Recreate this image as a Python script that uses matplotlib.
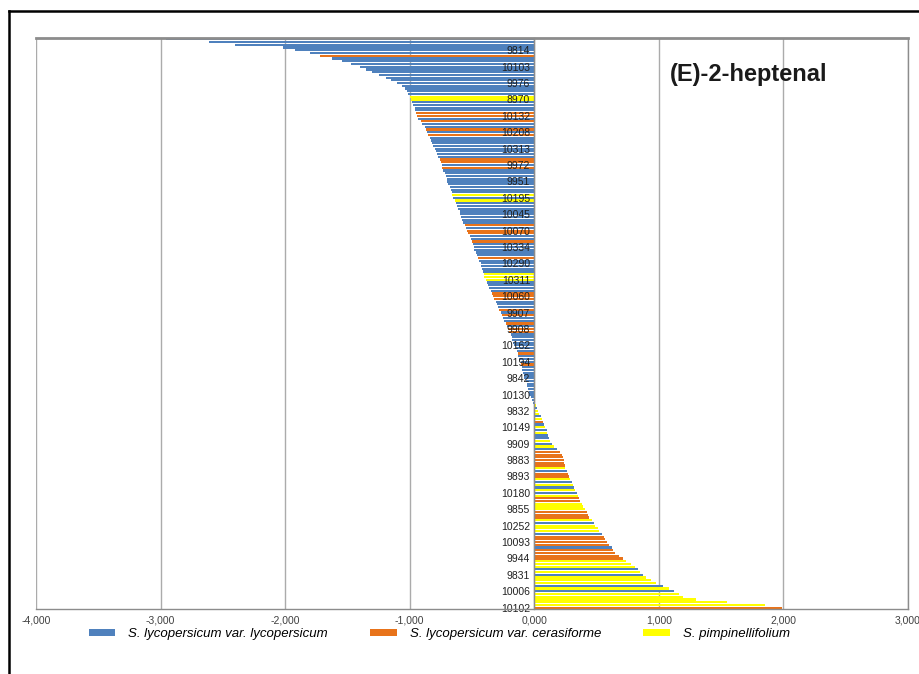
import numpy as np
import matplotlib
matplotlib.use("Agg")
import matplotlib.pyplot as plt
from matplotlib.lines import Line2D
from matplotlib.patches import Patch

# ---------------- data (top bar first) ----------------
values = [
    -2.96, -2.61, -2.40, -2.02, -1.92, -1.80, -1.72, -1.62, -1.54, -1.47,
    -1.40, -1.35, -1.30, -1.25, -1.19, -1.15, -1.10, -1.06, -1.04, -1.02,
    -1.01, -1.00, -0.99, -0.98, -0.97, -0.96, -0.96, -0.95, -0.94, -0.93,
    -0.91, -0.90, -0.88, -0.87, -0.86, -0.85, -0.84, -0.83, -0.82, -0.81,
    -0.80, -0.79, -0.78, -0.77, -0.76, -0.75, -0.74, -0.74, -0.73, -0.72,
    -0.71, -0.70, -0.70, -0.69, -0.68, -0.67, -0.66, -0.66, -0.65, -0.64,
    -0.63, -0.62, -0.61, -0.60, -0.60, -0.59, -0.58, -0.57, -0.56, -0.55,
    -0.54, -0.53, -0.52, -0.51, -0.50, -0.49, -0.48, -0.48, -0.47, -0.46,
    -0.45, -0.44, -0.43, -0.43, -0.42, -0.41, -0.40, -0.40, -0.39, -0.38,
    -0.37, -0.36, -0.35, -0.34, -0.33, -0.32, -0.31, -0.30, -0.29, -0.28,
    -0.27, -0.26, -0.25, -0.24, -0.23, -0.22, -0.21, -0.20, -0.19, -0.18,
    -0.18, -0.17, -0.16, -0.15, -0.14, -0.13, -0.13, -0.12, -0.11, -0.11,
    -0.10, -0.10, -0.09, -0.08, -0.08, -0.07, -0.06, -0.06, -0.05, -0.04,
    -0.04, -0.03, -0.02, -0.01, 0.01, 0.02, 0.03, 0.04, 0.05, 0.06,
    0.07, 0.08, 0.09, 0.10, 0.10, 0.11, 0.12, 0.13, 0.14, 0.16,
    0.18, 0.21, 0.22, 0.23, 0.24, 0.24, 0.25, 0.25, 0.26, 0.27,
    0.28, 0.29, 0.30, 0.31, 0.32, 0.33, 0.34, 0.35, 0.36, 0.37,
    0.38, 0.39, 0.41, 0.42, 0.43, 0.44, 0.46, 0.48, 0.49, 0.51,
    0.52, 0.54, 0.56, 0.57, 0.58, 0.60, 0.62, 0.63, 0.65, 0.68,
    0.71, 0.74, 0.78, 0.81, 0.83, 0.85, 0.87, 0.90, 0.94, 0.98,
    1.03, 1.08, 1.12, 1.16, 1.19, 1.30, 1.55, 1.85, 1.99,
]

# L = var. lycopersicum, C = var. cerasiforme, P = S. pimpinellifolium
groups = list(
    "LLLLLLCLLL" "LLLLLLLLLL" "LPPLLLLCCL" "CLLCLCLLLL" "LLLLCCLCLL"
    "LLLLLLLPLP" "LLLLLLLLCL" "CCLLCLLLLL" "CLLLLLPPPL" "LLLCCCLLLC"
    "LCLLCLCCLL" "LLLLLCLLLC" "LLLLLLLLLL" "LLLLPLPPLP" "CLPLPLLPLP"
    "LCCCCCCPLC" "CPLPLPLPCC" "PPPCCCPLPP" "PLCCCCLCCC" "CPPPLPLPPP"
    "LPLPPPPPC"
)

tick_labels = [
    "9814", "10103", "9976", "8970", "10132", "10208", "10313", "9972",
    "9951", "10195", "10045", "10070", "10334", "10290", "10311", "10060",
    "9907", "9908", "10162", "10194", "9842", "10130", "9832", "10149",
    "9909", "9883", "9893", "10180", "9855", "10252", "10093", "9944",
    "9831", "10006", "10102",
]

series_names = {
    "L": "S. lycopersicum var. lycopersicum",
    "C": "S. lycopersicum var. cerasiforme",
    "P": "S. pimpinellifolium",
}
series_colors = {"L": "#4F81BD", "C": "#E8731A", "P": "#FFFF00"}

title = "(E)-2-heptenal"

# ---------------- plot ----------------
narrow = ["Liberation Sans Narrow", "Liberation Sans", "DejaVu Sans"]

values_arr = np.array(values)
groups_arr = np.array(groups)
n = len(values_arr)
pos = np.arange(n)

fig = plt.figure(figsize=(9.19, 6.74), dpi=100)
ax = fig.add_axes([36 / 919, 1 - 609 / 674, (908 - 36) / 919, (609 - 38) / 674])

# move category axis to x = 0 first (this resets tick properties)
ax.spines["left"].set_position(("data", 0))

xt = np.arange(-4, 4, 1)
for xv in xt:
    ax.axvline(xv, color="#ABABAB", linewidth=1.0, zorder=0.5)

for g in ["L", "C", "P"]:
    m = groups_arr == g
    ax.barh(pos[m], values_arr[m], height=0.8, color=series_colors[g],
            linewidth=0, label=series_names[g], zorder=1)

ax.set_xlim(-4, 3)
ax.set_ylim(n - 0.5, -0.5)
ax.set_xticks(xt)
ax.set_xticklabels([f"{v:.3f}".replace(".", ",") for v in xt],
                   family=narrow, fontsize=7.5, color="#404040")

label_pos = np.arange(4, n, 6)[:len(tick_labels)]
ax.set_yticks(label_pos)
ax.set_yticklabels(tick_labels, family=narrow, fontsize=7.5, color="#202020")
ax.tick_params(axis="y", length=0, pad=3)
ax.tick_params(axis="x", length=0, pad=5)

for s in ["left", "top", "bottom", "right"]:
    ax.spines[s].set_color("#8C8C8C")
    ax.spines[s].set_linewidth(1.0)
ax.spines["top"].set_linewidth(2.0)

ax.text((670 - 36) / 872, 1 - (75 - 38) / 571, title, transform=ax.transAxes,
        ha="left", va="center", fontsize=17, fontweight="bold",
        family=narrow, color="#1A1A1A", zorder=5)

handles = [Patch(facecolor=series_colors[g], edgecolor="none", label=series_names[g])
           for g in ["L", "C", "P"]]
fig.legend(handles=handles, loc="center", bbox_to_anchor=(0.478, 1 - 634 / 674),
           ncol=3, frameon=False, prop={"family": narrow, "style": "italic", "size": 9.5},
           handlelength=2.0, handleheight=0.45, columnspacing=3.2, handletextpad=1.0)

# outer black border (left and top visible)
fig.add_artist(Line2D([9 / 919, 9 / 919], [0, 1 - 11 / 674], transform=fig.transFigure,
                      color="black", linewidth=1.8))
fig.add_artist(Line2D([9 / 919, 1], [1 - 11 / 674, 1 - 11 / 674], transform=fig.transFigure,
                      color="black", linewidth=1.8))

fig.savefig("out.png", dpi=100)
